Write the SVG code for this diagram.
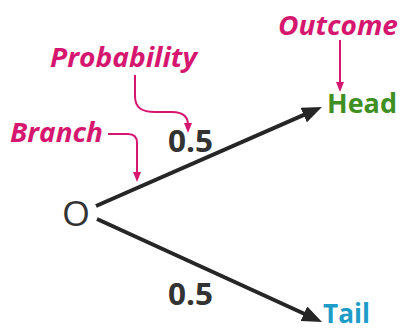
<svg xmlns="http://www.w3.org/2000/svg" width="402" height="331" viewBox="0 0 402 331">
<style>
.lbl{font-family:"Open Sans","Liberation Sans",sans-serif;font-style:italic;font-weight:700;font-size:26px;fill:#d6176f}
.num{font-family:"Open Sans","Liberation Sans",sans-serif;font-weight:700;font-size:30px;fill:#333}
.out{font-family:"Open Sans","Liberation Sans",sans-serif;font-weight:700;font-size:26px}
.br{fill:none;stroke:#262626;stroke-width:4}
.cal{fill:none;stroke:#d6176f;stroke-width:2}
</style>
<defs>
<marker id="ah" viewBox="0 0 20 16" refX="4" refY="8" markerWidth="20" markerHeight="16" markerUnits="userSpaceOnUse" orient="auto"><path d="M0,0 L20,8 L0,16 z" fill="#262626"/></marker>
<marker id="am" viewBox="0 0 10 8" refX="2" refY="4" markerWidth="10" markerHeight="8" markerUnits="userSpaceOnUse" orient="auto"><path d="M0,0 L10,4 L0,8 z" fill="#d6176f"/></marker>
</defs>
<rect width="402" height="331" fill="#fff"/>
<g id="connectors">
<path class="br" d="M96,206 L307.3,113.4" marker-end="url(#ah)"/>
<path class="br" d="M97,219 L307.5,315.3" marker-end="url(#ah)"/>
<path class="cal" d="M340,40 V84" marker-end="url(#am)"/>
<path class="cal" d="M135,75 V96 C135,108 142,112 155,112 H172 C183,112 188,117 188,125" marker-end="url(#am)"/>
<path class="cal" d="M108,134 H128 C134,134 137,137 137,143 V174" marker-end="url(#am)"/>
</g>
<g id="origin"><text x="62" y="226" font-family="Open Sans, Liberation Sans, sans-serif" font-size="34" font-weight="500" fill="#333" textLength="28" lengthAdjust="spacingAndGlyphs">O</text></g>
<g id="head"><text class="out" x="327" y="113" fill="#3f8f22" textLength="70" lengthAdjust="spacingAndGlyphs">Head</text></g>
<g id="tail"><text class="out" x="323" y="323" fill="#1e9cc8" textLength="47" lengthAdjust="spacingAndGlyphs" font-size="24">Tail</text></g>
<g id="p-upper"><text class="num" x="168" y="152" textLength="45" lengthAdjust="spacingAndGlyphs">0.5</text></g>
<g id="p-lower"><text class="num" x="168" y="305" textLength="45" lengthAdjust="spacingAndGlyphs">0.5</text></g>
<g id="label-outcome"><text class="lbl" x="278" y="35" textLength="120" lengthAdjust="spacingAndGlyphs">Outcome</text></g>
<g id="label-probability"><text class="lbl" x="50" y="67" textLength="147" lengthAdjust="spacingAndGlyphs">Probability</text></g>
<g id="label-branch"><text class="lbl" x="10" y="142" textLength="93" lengthAdjust="spacingAndGlyphs">Branch</text></g>
</svg>
